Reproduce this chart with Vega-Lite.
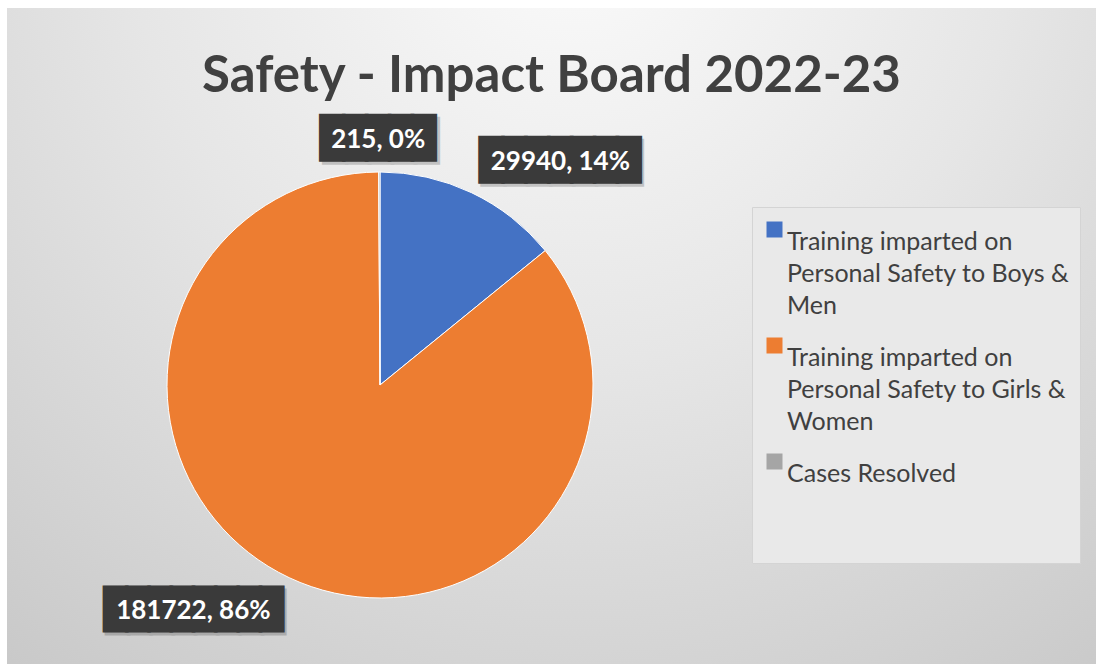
{
  "$schema": "https://vega.github.io/schema/vega-lite/v6.json",
  "width": 1089,
  "height": 656,
  "autosize": {"type": "none"},
  "padding": {"left": 7, "top": 8, "right": 0, "bottom": 0},
  "background": "#ffffff",
  "title": {
    "text": "Safety - Impact Board 2022-23",
    "anchor": "middle",
    "frame": "group",
    "font": "Lato",
    "fontSize": 51,
    "fontWeight": "bold",
    "color": "#404040",
    "offset": -135,
    "baseline": "alphabetic"
  },
  "layer": [
    {
      "data": {"values": [{"bg": 1}]},
      "mark": {
        "type": "rect",
        "fill": {
          "gradient": "radial",
          "x1": 0.52, "y1": 0.12, "x2": 0.52, "y2": 0.12,
          "r1": 0, "r2": 0.9,
          "stops": [
            {"offset": 0, "color": "#fbfbfb"},
            {"offset": 0.45, "color": "#e6e6e6"},
            {"offset": 1, "color": "#c6c6c6"}
          ]
        }
      },
      "encoding": {
        "x": {"value": 0},
        "x2": {"value": "width"},
        "y": {"value": 0},
        "y2": {"value": "height"}
      }
    },
    {
      "data": {
        "values": [
          {"category": "Training imparted on Personal Safety to Boys & Men", "value": 29940, "order": 1},
          {"category": "Training imparted on Personal Safety to Girls & Women", "value": 181722, "order": 2},
          {"category": "Cases Resolved", "value": 215, "order": 3}
        ]
      },
      "transform": [
        {"joinaggregate": [{"op": "sum", "field": "value", "as": "total"}]},
        {"calculate": "datum.value + ', ' + format(datum.value / datum.total, '.0%')", "as": "label"}
      ],
      "encoding": {
        "theta": {"field": "value", "type": "quantitative", "stack": true},
        "order": {"field": "order", "type": "quantitative"},
        "detail": {"field": "category", "type": "nominal"}
      },
      "layer": [
        {
          "mark": {"type": "arc", "x": 373, "y": 377, "outerRadius": 213, "stroke": "#ffffff", "strokeWidth": 1},
          "encoding": {
            "color": {
              "field": "category",
              "type": "nominal",
              "scale": {
                "domain": ["Training imparted on Personal Safety to Boys & Men", "Training imparted on Personal Safety to Girls & Women", "Cases Resolved"],
                "range": ["#4472C4", "#ED7D31", "#A5A5A5"]
              },
              "legend": {
                "orient": "none",
                "legendX": 745,
                "legendY": 199,
                "direction": "vertical",
                "title": " ",
                "titleOrient": "bottom",
                "titlePadding": 56,
                "titleFontSize": 10,
                "titleLimit": 600,
                "padding": 10,
                "fillColor": "#e9e9e9",
                "strokeColor": "#d4d4d4",
                "symbolType": "square",
                "symbolSize": 256,
                "symbolStrokeWidth": 0,
                "labelFont": "Lato",
                "labelFontSize": 25,
                "labelColor": "#404040",
                "labelLimit": 400,
                "labelOffset": 0,
                "labelBaseline": "top",
                "rowPadding": 14,
                "labelExpr": "indexof(datum.label, 'Boys') >= 0 ? ['Training imparted on', 'Personal Safety to Boys &', 'Men'] : indexof(datum.label, 'Girls') >= 0 ? ['Training imparted on', 'Personal Safety to Girls &', 'Women'] : datum.label",
                "encode": {"labels": {"update": {"dy": {"value": -15}}}}
              }
            }
          }
        },
        {
          "mark": {"type": "text", "x": 373, "y": 377, "radius": 245, "dx": 2, "dy": 3, "font": "DejaVu Sans Mono", "fontSize": 38, "fill": "#000000", "opacity": 0.18, "stroke": "#000000", "strokeWidth": 3, "align": "center", "baseline": "middle"},
          "encoding": {"text": {"condition": {"test": "datum.order == 3", "value": "█████"}, "value": ""}}
        },
        {
          "mark": {"type": "text", "x": 373, "y": 377, "radius": 245, "dx": -1, "dy": 0, "font": "DejaVu Sans Mono", "fontSize": 38, "fill": "#3a3a3a", "stroke": "#3a3a3a", "strokeWidth": 3, "align": "center", "baseline": "middle"},
          "encoding": {"text": {"condition": {"test": "datum.order == 3", "value": "█████"}, "value": ""}}
        },
        {
          "mark": {"type": "text", "x": 373, "y": 377, "radius": 245, "dx": -1, "dy": 0, "font": "Lato", "fontSize": 26, "fontWeight": "bold", "fill": "#ffffff", "align": "center", "baseline": "middle"},
          "encoding": {"text": {"condition": {"test": "datum.order == 3", "field": "label"}, "value": ""}}
        },
        {
          "mark": {"type": "text", "x": 373, "y": 377, "radius": 250, "dx": 75, "dy": 6, "font": "DejaVu Sans Mono", "fontSize": 38, "fill": "#000000", "opacity": 0.18, "stroke": "#000000", "strokeWidth": 3, "align": "center", "baseline": "middle"},
          "encoding": {"text": {"condition": {"test": "datum.order == 1", "value": "███████"}, "value": ""}}
        },
        {
          "mark": {"type": "text", "x": 373, "y": 377, "radius": 250, "dx": 73, "dy": 3, "font": "DejaVu Sans Mono", "fontSize": 38, "fill": "#3a3a3a", "stroke": "#3a3a3a", "strokeWidth": 3, "align": "center", "baseline": "middle"},
          "encoding": {"text": {"condition": {"test": "datum.order == 1", "value": "███████"}, "value": ""}}
        },
        {
          "mark": {"type": "text", "x": 373, "y": 377, "radius": 250, "dx": 73, "dy": 3, "font": "Lato", "fontSize": 26, "fontWeight": "bold", "fill": "#ffffff", "align": "center", "baseline": "middle"},
          "encoding": {"text": {"condition": {"test": "datum.order == 1", "field": "label"}, "value": ""}}
        },
        {
          "mark": {"type": "text", "x": 373, "y": 377, "radius": 250, "dx": -78, "dy": 3, "font": "DejaVu Sans Mono", "fontSize": 37, "fill": "#000000", "opacity": 0.18, "stroke": "#000000", "strokeWidth": 3, "align": "center", "baseline": "middle"},
          "encoding": {"text": {"condition": {"test": "datum.order == 2", "value": "████████"}, "value": ""}}
        },
        {
          "mark": {"type": "text", "x": 373, "y": 377, "radius": 250, "dx": -80, "dy": 0, "font": "DejaVu Sans Mono", "fontSize": 37, "fill": "#3a3a3a", "stroke": "#3a3a3a", "strokeWidth": 3, "align": "center", "baseline": "middle"},
          "encoding": {"text": {"condition": {"test": "datum.order == 2", "value": "████████"}, "value": ""}}
        },
        {
          "mark": {"type": "text", "x": 373, "y": 377, "radius": 250, "dx": -80, "dy": 0, "font": "Lato", "fontSize": 26, "fontWeight": "bold", "fill": "#ffffff", "align": "center", "baseline": "middle"},
          "encoding": {"text": {"condition": {"test": "datum.order == 2", "field": "label"}, "value": ""}}
        }
      ]
    }
  ],
  "config": {
    "view": {"stroke": null},
    "style": {"guide-label": {"lineHeight": 32}}
  }
}
